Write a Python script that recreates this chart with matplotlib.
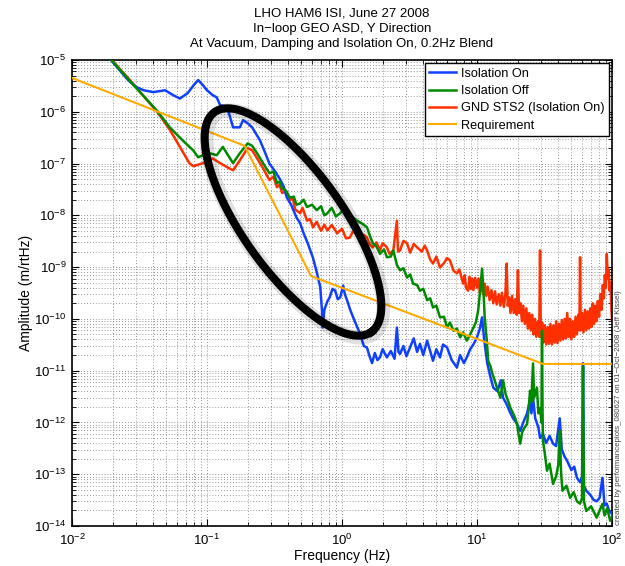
import numpy as np
import matplotlib
matplotlib.use('Agg')
import matplotlib.pyplot as plt
from matplotlib.ticker import FixedLocator, LogLocator, NullFormatter

plt.rcParams['font.family'] = ['Liberation Sans', 'DejaVu Sans']
plt.rcParams['mathtext.fontset'] = 'custom'
plt.rcParams['mathtext.rm'] = 'Liberation Sans'
plt.rcParams['mathtext.it'] = 'Liberation Sans:italic'
plt.rcParams['mathtext.bf'] = 'Liberation Sans:bold'

# Valores: (frecuencia Hz, amplitud m/rtHz)
iso_on = [
    (0.015, 2.2e-5), (0.026, 4.1e-6), (0.030, 3.0e-6), (0.034, 2.6e-6), (0.040, 2.4e-6),
    (0.049, 2.6e-6), (0.056, 2.1e-6), (0.063, 1.8e-6), (0.072, 2.3e-6), (0.080, 3.3e-6),
    (0.086, 4.1e-6), (0.093, 3.3e-6), (0.100, 2.6e-6), (0.110, 2.1e-6), (0.118, 1.9e-6),
    (0.125, 1.35e-6), (0.141, 1.23e-6), (0.148, 8.0e-7), (0.156, 5.0e-7), (0.175, 5.0e-7),
    (0.185, 6.9e-7), (0.20, 6.0e-7), (0.216, 5.0e-7), (0.247, 2.8e-7), (0.27, 1.6e-7),
    (0.29, 1.0e-7), (0.32, 7.0e-8), (0.35, 4.8e-8), (0.37, 3.6e-8), (0.39, 2.2e-8),
    (0.42, 1.6e-8), (0.46, 9.1e-9), (0.49, 7.0e-9), (0.52, 4.5e-9), (0.56, 2.8e-9),
    (0.61, 1.5e-9), (0.65, 8.0e-10), (0.69, 4.1e-10), (0.71, 1.5e-10), (0.72, 6.8e-11),
    (0.74, 1.5e-10), (0.78, 2.2e-10), (0.81, 2.6e-10), (0.85, 3.8e-10), (0.89, 3.5e-10),
    (0.93, 2.4e-10), (0.97, 2.6e-10), (1.02, 4.4e-10), (1.05, 3.0e-10), (1.09, 2.3e-10),
    (1.15, 1.5e-10), (1.21, 1.07e-10), (1.28, 7.5e-11), (1.36, 5.2e-11), (1.45, 3.0e-11),
    (1.53, 2.8e-11), (1.6, 1.9e-11), (1.67, 1.4e-11), (1.75, 2.2e-11), (1.83, 1.6e-11),
    (1.91, 1.8e-11), (2.0, 2.6e-11), (2.15, 1.8e-11), (2.3, 2.4e-11), (2.45, 1.7e-11),
    (2.55, 6.8e-11), (2.62, 2.3e-11), (2.69, 2.1e-11), (2.85, 3.0e-11), (3.0, 1.9e-11),
    (3.19, 2.8e-11), (3.4, 4.2e-11), (3.6, 2.3e-11), (3.78, 3.3e-11), (4.0, 2.0e-11),
    (4.27, 3.8e-11), (4.5, 2.4e-11), (4.72, 1.55e-11), (5.0, 2.6e-11), (5.32, 1.8e-11),
    (5.6, 3.2e-11), (6.0, 2.8e-11), (6.5, 1.6e-11), (7.1, 1.15e-11), (7.5, 2.0e-11),
    (8.0, 1.4e-11), (8.4, 1.8e-11), (8.9, 2.6e-11), (9.4, 3.2e-11), (10.0, 4.4e-11),
    (10.5, 6.5e-11), (10.9, 1.07e-10), (11.3, 4.0e-11), (11.9, 1.4e-11), (12.5, 8.0e-12),
    (13.2, 4.7e-12), (14.2, 4.0e-12), (15.0, 6.5e-12), (15.6, 3.0e-12), (16.5, 2.3e-12),
    (17.5, 1.6e-12), (18.5, 1.2e-12), (19.5, 1.0e-12), (20.9, 6.9e-13), (22.0, 1.0e-12),
    (23.5, 1.5e-12), (24.5, 2.5e-12), (25.3, 1.5e-12), (26.0, 3.0e-12), (27.0, 1.2e-12),
    (28.5, 8.0e-13), (29.3, 5.0e-13), (30.8, 6.0e-13), (32.5, 4.0e-13), (34.5, 5.5e-13),
    (36.6, 3.9e-13), (38.5, 3.5e-13), (41, 1.2e-12), (42.5, 3.0e-13), (44.5, 2.2e-13),
    (46.6, 1.8e-13), (50, 1.2e-13), (52.5, 1.4e-13), (55, 8.5e-14), (58, 7.0e-14),
    (60, 9.0e-14), (61, 1.4e-11), (62, 6.0e-14), (64.5, 4.8e-14), (69, 4.0e-14),
    (73, 3.2e-14), (77, 3.0e-14), (81, 3.5e-14), (85, 8.5e-14), (88, 2.5e-14),
    (91.5, 2.7e-14), (95, 2.0e-14), (100, 1.7e-14),
]

iso_off = [
    (0.015, 2.2e-5), (0.026, 4.3e-6), (0.043, 1.02e-6), (0.053, 5.0e-7), (0.066, 2.8e-7),
    (0.079, 1.8e-7), (0.086, 1.32e-7), (0.093, 1.45e-7), (0.105, 1.58e-7), (0.118, 1.45e-7),
    (0.131, 2.1e-7), (0.143, 1.45e-7), (0.156, 1.02e-7), (0.175, 1.58e-7), (0.20, 2.45e-7),
    (0.216, 2.2e-7), (0.235, 1.58e-7), (0.26, 1.02e-7), (0.29, 6.5e-8), (0.31, 7.0e-8),
    (0.33, 4.2e-8), (0.345, 4.5e-8), (0.36, 3.3e-8), (0.385, 3.0e-8), (0.41, 2.2e-8),
    (0.44, 2.3e-8), (0.46, 1.6e-8), (0.49, 1.7e-8), (0.52, 2.0e-8), (0.55, 1.45e-8),
    (0.6, 1.6e-8), (0.65, 1.26e-8), (0.7, 1.5e-8), (0.74, 1.0e-8), (0.78, 1.1e-8),
    (0.84, 1.4e-8), (0.9, 9.5e-9), (0.97, 1.1e-8), (1.03, 1.3e-8), (1.1, 8.5e-9),
    (1.21, 9.1e-9), (1.29, 7.9e-9), (1.4, 7.0e-9), (1.53, 5.9e-9), (1.6, 4.2e-9),
    (1.69, 2.9e-9), (1.8, 2.5e-9), (1.91, 1.8e-9), (2.05, 2.2e-9), (2.15, 1.55e-9),
    (2.3, 1.6e-9), (2.40, 2.1e-9), (2.55, 1.1e-9), (2.69, 8.7e-10), (2.85, 9.5e-10),
    (3.03, 6.3e-10), (3.2, 7.2e-10), (3.36, 4.8e-10), (3.6, 4.5e-10), (3.78, 3.5e-10),
    (4.0, 3.8e-10), (4.27, 2.3e-10), (4.5, 2.5e-10), (4.72, 1.66e-10), (5.0, 1.8e-10),
    (5.32, 1.07e-10), (5.7, 1.1e-10), (6.0, 6.8e-11), (6.3, 8.5e-11), (6.7, 5.9e-11),
    (7.1, 6.5e-11), (7.5, 4.4e-11), (7.9, 5.5e-11), (8.4, 3.8e-11), (8.9, 5.0e-11),
    (9.4, 6.8e-11), (9.8, 8.5e-11), (10.2, 1.45e-10), (10.6, 4.0e-10), (10.9, 9.3e-10),
    (11.2, 3.0e-10), (11.4, 1.07e-10), (11.8, 4.0e-11), (12.1, 1.55e-11), (12.6, 1.2e-11),
    (13.0, 8.7e-12), (13.8, 5.5e-12), (14.9, 3.0e-12), (15.6, 6.5e-12), (16.3, 3.5e-12),
    (17.0, 2.6e-12), (17.7, 1.9e-12), (18.5, 1.5e-12), (19.2, 1.2e-12), (19.8, 9.3e-13),
    (20.3, 6.0e-13), (20.9, 3.9e-13), (21.6, 6.5e-13), (22.5, 8.0e-13), (23.5, 9.3e-13),
    (24.2, 2.0e-12), (24.7, 4.1e-12), (25.3, 2.5e-12), (26.0, 1.38e-11), (26.5, 3.0e-12),
    (27.8, 4.7e-12), (28.5, 1.5e-12), (29.3, 1.9e-12), (30.0, 1.0e-12), (30.3, 5.9e-11),
    (30.6, 1.5e-12), (30.8, 4.5e-13), (31.8, 2.5e-13), (33.0, 1.17e-13), (34.5, 1.6e-13),
    (36.6, 6.5e-14), (38.5, 9.0e-14), (40, 1.5e-13), (41, 6.9e-13), (42, 1.0e-13),
    (43, 4.8e-14), (46, 6.0e-14), (49, 3.5e-14), (52, 4.5e-14), (55, 3.0e-14),
    (58, 2.7e-14), (60, 3.5e-14), (61, 1.2e-11), (62, 3.0e-14), (64.5, 1.95e-14),
    (70, 2.4e-14), (77, 1.45e-14), (81, 2.0e-14), (85, 2.7e-14), (88, 1.6e-14),
    (92, 2.2e-14), (97, 1.26e-14), (100, 1.5e-14),
]

gnd_sts2 = [
    (0.015, 2.2e-5), (0.026, 4.5e-6), (0.043, 9.8e-7), (0.053, 4.5e-7), (0.063, 2.1e-7),
    (0.074, 1.02e-7), (0.079, 8.9e-8), (0.089, 9.8e-8), (0.100, 1.07e-7), (0.110, 1.26e-7),
    (0.125, 1.02e-7), (0.141, 8.5e-8), (0.156, 7.4e-8), (0.175, 1.15e-7), (0.20, 2.0e-7),
    (0.216, 1.8e-7), (0.235, 1.26e-7), (0.26, 8.1e-8), (0.29, 4.8e-8), (0.31, 5.6e-8),
    (0.33, 3.5e-8), (0.345, 3.9e-8), (0.36, 2.7e-8), (0.385, 2.9e-8), (0.41, 1.95e-8),
    (0.43, 2.2e-8), (0.45, 1.3e-8), (0.49, 1.1e-8), (0.51, 1.4e-8), (0.55, 7.9e-9),
    (0.58, 8.5e-9), (0.61, 5.9e-9), (0.65, 7.5e-9), (0.70, 5.0e-9), (0.74, 6.6e-9),
    (0.78, 5.1e-9), (0.84, 6.5e-9), (0.92, 4.5e-9), (1.0, 5.5e-9), (1.07, 3.6e-9),
    (1.14, 3.7e-9), (1.2, 4.8e-9), (1.29, 4.5e-9), (1.36, 3.0e-9), (1.45, 4.2e-9),
    (1.53, 3.7e-9), (1.6, 2.8e-9), (1.69, 2.4e-9), (1.8, 3.0e-9), (1.91, 2.1e-9),
    (2.0, 2.9e-9), (2.15, 2.4e-9), (2.25, 1.8e-9), (2.40, 2.1e-9), (2.55, 7.9e-9),
    (2.6, 2.0e-9), (2.69, 2.1e-9), (2.85, 3.2e-9), (3.03, 2.9e-9), (3.2, 1.9e-9),
    (3.4, 2.8e-9), (3.6, 2.4e-9), (3.9, 2.0e-9), (4.1, 2.6e-9), (4.27, 2.1e-9),
    (4.5, 1.4e-9), (4.72, 1.17e-9), (5.0, 1.6e-9), (5.32, 9.8e-10), (5.7, 1.2e-9),
    (6.0, 1.5e-9), (6.3, 1.35e-9), (6.7, 8.5e-10), (7.1, 7.6e-10), (7.4, 9.0e-10),
    (7.9, 4.8e-10), (8.1, 7.0e-10), (8.3, 4.0e-10), (8.6, 3.5e-10), (8.8, 6.5e-10),
    (9.0, 3.8e-10), (9.2, 6.0e-10), (9.4, 3.6e-10), (9.7, 6.2e-10), (10.0, 4.0e-10),
    (10.3, 6.0e-10), (10.5, 3.2e-10), (10.8, 5.0e-10), (11.1, 3.0e-10), (11.4, 4.8e-10),
    (11.7, 2.8e-10), (12.0, 4.2e-10), (12.4, 2.3e-10), (12.8, 3.6e-10), (13.2, 2.0e-10),
    (13.6, 3.4e-10), (14.0, 1.9e-10), (14.5, 3.0e-10), (14.9, 1.8e-10), (15.3, 3.2e-10),
    (15.8, 1.7e-10), (16.2, 2.8e-10), (16.6, 1.17e-9), (16.9, 1.8e-10), (17.3, 2.6e-10),
    (17.7, 1.3e-10), (18.2, 2.8e-10), (18.7, 1.3e-10), (19.2, 2.4e-10), (19.7, 1.2e-10),
    (20.1, 8.7e-10), (20.5, 1.3e-10), (21.0, 2.0e-10), (21.5, 9.0e-11), (22.0, 1.8e-10),
    (22.6, 8.0e-11), (23.2, 1.6e-10), (23.8, 6.5e-11), (24.4, 1.3e-10), (25.0, 6.0e-11),
    (25.6, 1.2e-10), (26.2, 5.0e-11), (26.8, 1.0e-10), (27.5, 4.5e-11), (28.2, 9.0e-11),
    (28.9, 4.5e-11), (29.3, 2.1e-9), (29.7, 4.5e-11), (30.4, 8.5e-11), (31.1, 3.5e-11),
    (31.8, 7.5e-11), (32.6, 3.2e-11), (33.4, 7.0e-11), (34.2, 3.3e-11), (35.0, 8.0e-11),
    (35.9, 3.2e-11), (36.8, 7.5e-11), (37.7, 3.5e-11), (38.6, 9.0e-11), (39.5, 3.4e-11),
    (40.5, 8.0e-11), (41.5, 3.8e-11), (42.5, 9.5e-11), (43.5, 4.0e-11), (44.6, 1.0e-10),
    (45.6, 4.2e-11), (46.6, 1.3e-10), (47.7, 4.5e-11), (48.8, 1.0e-10), (50.0, 4.0e-11),
    (51.2, 9.0e-11), (52.4, 4.5e-11), (53.7, 1.1e-10), (55.0, 5.0e-11), (56.3, 1.2e-10),
    (57.3, 6.0e-11), (58, 1.55e-9), (58.7, 6.0e-11), (60.0, 1.3e-10), (61.5, 5.5e-11),
    (63.0, 1.5e-10), (64.5, 6.0e-11), (66.0, 1.4e-10), (67.5, 6.5e-11), (69.0, 1.6e-10),
    (70.5, 7.0e-11), (72.0, 2.0e-10), (73.5, 8.0e-11), (75.0, 1.8e-10), (76.8, 9.0e-11),
    (78.5, 2.2e-10), (80.2, 1.1e-10), (82.0, 3.0e-10), (83.8, 1.5e-10), (85.5, 4.5e-10),
    (87.0, 2.5e-10), (88.5, 7.0e-10), (90.0, 4.0e-10), (91.5, 1.8e-9), (93.0, 6.0e-10),
    (94.5, 9.0e-10), (96.0, 3.5e-10), (97.5, 5.0e-10), (99.0, 1.5e-10), (100, 9.3e-11),
]

req_freq = [0.01, 0.19, 0.59, 30.8, 100]
req_amp = [4.5e-6, 2.2e-7, 6.7e-10, 1.35e-11, 1.35e-11]

titulo = ['LHO HAM6 ISI, June 27 2008',
          'In\u2212loop GEO ASD, Y Direction',
          'At Vacuum, Damping and Isolation On, 0.2Hz Blend']
nota = 'created by performanceplots_080627 on 01\u2212Oct\u22122008 (Jeff Kissel)'

# Colores estilo MATLAB
C_ON = '#1040ff'
C_OFF = '#008a00'
C_GND = '#ff3000'
C_REQ = '#ffaa00'

fig = plt.figure(figsize=(6.25, 5.66), dpi=100)
ax = fig.add_axes([72 / 625, 40 / 566, 540 / 625, 466 / 566])

f_on, a_on = np.array(iso_on).T
f_off, a_off = np.array(iso_off).T
f_gnd, a_gnd = np.array(gnd_sts2).T

l_gnd, = ax.loglog(f_gnd, a_gnd, color=C_GND, lw=1.8, zorder=2)
l_on, = ax.loglog(f_on, a_on, color=C_ON, lw=1.8, zorder=3)
l_off, = ax.loglog(f_off, a_off, color=C_OFF, lw=1.8, zorder=4)
l_req, = ax.loglog(req_freq, req_amp, color=C_REQ, lw=1.5, zorder=5)

ax.set_xlim(1e-2, 1e2)
ax.set_ylim(1e-14, 1e-5)

# Ticks y grilla tipo MATLAB
ax.xaxis.set_major_locator(FixedLocator([10.0 ** e for e in range(-2, 3)]))
ax.set_xticklabels([f'$10^{{{e}}}$' for e in range(-2, 3)])
ax.yaxis.set_major_locator(FixedLocator([10.0 ** e for e in range(-14, -4)]))
ax.set_yticklabels([f'$10^{{{e}}}$' for e in range(-14, -4)])
ax.xaxis.set_minor_locator(LogLocator(base=10, subs=np.arange(2, 10), numticks=20))
ax.yaxis.set_minor_locator(LogLocator(base=10, subs=np.arange(2, 10), numticks=20))
ax.xaxis.set_minor_formatter(NullFormatter())
ax.yaxis.set_minor_formatter(NullFormatter())
ax.tick_params(which='both', direction='in', top=True, right=True, labelsize=9.5)
ax.tick_params(axis='y', pad=4)
ax.tick_params(axis='x', pad=5)
ax.tick_params(which='major', length=5, width=0.8)
ax.tick_params(which='minor', length=3, width=0.6)
ax.grid(True, which='both', color='#777777', linestyle=(0, (1, 2.5)), linewidth=0.6)
for s in ax.spines.values():
    s.set_linewidth(1.2)

ax.set_xlabel('Frequency (Hz)', fontsize=10)
ax.xaxis.set_label_coords(0.5, -0.05)
ax.set_ylabel('Amplitude (m/rtHz)', fontsize=10)
ax.yaxis.set_label_coords(-0.073, 0.5)
ax.set_title('\n'.join(titulo), fontsize=9.5, linespacing=1.4, pad=9)

leg = ax.legend([l_on, l_off, l_gnd, l_req],
                ['Isolation On', 'Isolation Off', 'GND STS2 (Isolation On)', 'Requirement'],
                loc='upper right', fontsize=9.2, fancybox=False, framealpha=1,
                edgecolor='black', borderaxespad=0.25, borderpad=0.35,
                labelspacing=0.42, handlelength=2.1, handletextpad=0.35)
leg.get_frame().set_linewidth(1.0)
leg.set_zorder(10)

# Elipse negra que marca la zona de la caida (en pixeles del eje)
W, H = 540.0, 466.0
cx, cy = 221.0, 304.0
a, b = 135.0, 50.0
ang = np.deg2rad(-54.5)
t = np.linspace(0, 2 * np.pi, 300)
ex = cx + a * np.cos(t) * np.cos(ang) - b * np.sin(t) * np.sin(ang)
ey = cy + a * np.cos(t) * np.sin(ang) + b * np.sin(t) * np.cos(ang)
ax.plot((ex + 2) / W, (ey - 2) / H, transform=ax.transAxes, color='#000000',
        lw=10, alpha=0.12, zorder=6, solid_capstyle='round')
ax.plot(ex / W, ey / H, transform=ax.transAxes, color='black', lw=5.8, zorder=7)

fig.text(619 / 625, 41 / 566, nota, rotation=90, fontsize=5.7, color='#444444',
         ha='center', va='bottom')

fig.savefig('out.png', dpi=100)
